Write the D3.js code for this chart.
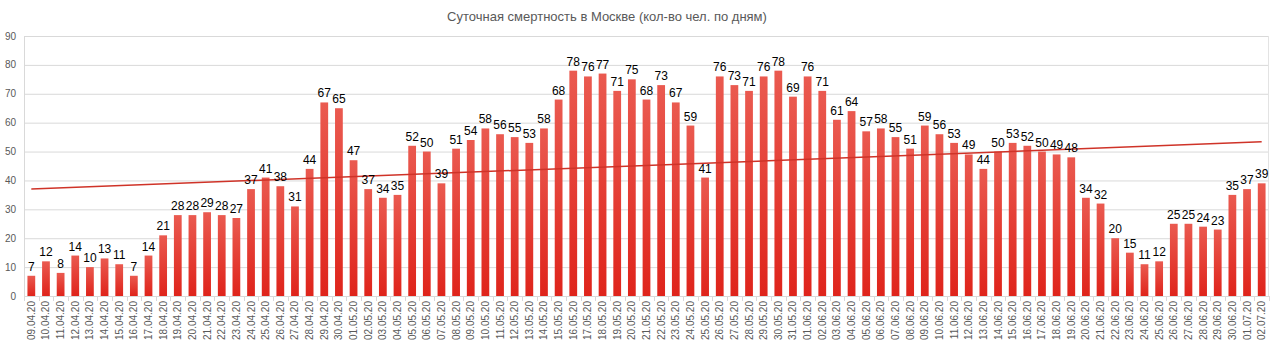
<!DOCTYPE html>
<html>
<head>
<meta charset="utf-8">
<script src="https://cdn.jsdelivr.net/npm/d3@7"></script>
<style>
  body { margin: 0; background: #fff; }
  svg { display: block; font-family: "Liberation Sans", Arial, sans-serif; }
</style>
</head>
<body>
<div class="chart"></div>
<script>
// daily deaths in Moscow, 09.04.20 - 02.07.20
var dates = [
  "09.04.20","10.04.20","11.04.20","12.04.20","13.04.20","14.04.20","15.04.20","16.04.20","17.04.20","18.04.20",
  "19.04.20","20.04.20","21.04.20","22.04.20","23.04.20","24.04.20","25.04.20","26.04.20","27.04.20","28.04.20",
  "29.04.20","30.04.20",
  "01.05.20","02.05.20","03.05.20","04.05.20","05.05.20","06.05.20","07.05.20","08.05.20","09.05.20","10.05.20",
  "11.05.20","12.05.20","13.05.20","14.05.20","15.05.20","16.05.20","17.05.20","18.05.20","19.05.20","20.05.20",
  "21.05.20","22.05.20","23.05.20","24.05.20","25.05.20","26.05.20","27.05.20","28.05.20","29.05.20","30.05.20",
  "31.05.20",
  "01.06.20","02.06.20","03.06.20","04.06.20","05.06.20","06.06.20","07.06.20","08.06.20","09.06.20","10.06.20",
  "11.06.20","12.06.20","13.06.20","14.06.20","15.06.20","16.06.20","17.06.20","18.06.20","19.06.20","20.06.20",
  "21.06.20","22.06.20","23.06.20","24.06.20","25.06.20","26.06.20","27.06.20","28.06.20","29.06.20","30.06.20",
  "01.07.20","02.07.20"
];
var deaths = [
  7,12,8,14,10,13,11,7,14,21,28,28,29,28,27,37,41,38,31,44,67,65,
  47,37,34,35,52,50,39,51,54,58,56,55,53,58,68,78,76,77,71,75,68,73,67,59,41,76,73,71,76,78,69,
  76,71,61,64,57,58,55,51,59,56,53,49,44,50,53,52,50,49,48,34,32,20,15,11,12,25,25,24,23,35,
  37,39
];
var yTicks = [0,10,20,30,40,50,60,70,80,90];
var title = "Суточная смертность в Москве (кол-во чел. по дням)";

var W = 1280, H = 353;
var margin = { top: 36, right: 11, bottom: 57, left: 24 };
var width = W - margin.left - margin.right;
var height = H - margin.top - margin.bottom;

var svg = d3.select(".chart")
  .append("svg")
    .attr("width", W)
    .attr("height", H);

var defs = svg.append("defs");
var grad = defs.append("linearGradient")
    .attr("id", "barGrad")
    .attr("x1", 0).attr("y1", 0).attr("x2", 0).attr("y2", 1);
grad.append("stop").attr("offset", "0%").attr("stop-color", "#ea5a50");
grad.append("stop").attr("offset", "100%").attr("stop-color", "#df241b");

svg.append("text")
    .attr("x", 607)
    .attr("y", 21)
    .attr("text-anchor", "middle")
    .attr("font-size", 13)
    .attr("fill", "#595959")
    .text(title);

var g = svg.append("g")
    .attr("transform", "translate(" + margin.left + "," + margin.top + ")");

var x = d3.scaleBand()
    .domain(dates)
    .range([0, width])
    .paddingInner(0.47)
    .paddingOuter(0.235);
var y = d3.scaleLinear()
    .domain([0, 90])
    .range([height, 0]);

// gridlines
g.selectAll(".grid")
  .data(yTicks)
  .enter().append("line")
    .attr("x1", 0).attr("x2", width)
    .attr("y1", function(d) { return y(d) + 0.5; })
    .attr("y2", function(d) { return y(d) + 0.5; })
    .attr("stroke", "#d9d9d9");

// plot area border (left + right)
g.append("line").attr("x1", 0.5).attr("x2", 0.5).attr("y1", 0).attr("y2", height)
    .attr("stroke", "#d9d9d9");
g.append("line").attr("x1", width - 0.5).attr("x2", width - 0.5).attr("y1", 0).attr("y2", height)
    .attr("stroke", "#e3e3e3");

// y axis labels
g.selectAll(".ylab")
  .data(yTicks)
  .enter().append("text")
    .attr("x", -8)
    .attr("y", function(d) { return y(d); })
    .attr("dy", "0.35em")
    .attr("text-anchor", "end")
    .attr("font-size", 10)
    .attr("fill", "#595959")
    .text(function(d) { return d; });

// category separators below axis
var sepX = d3.range(dates.length + 1).map(function(i) { return i * width / dates.length; });
g.selectAll(".sep")
  .data(sepX)
  .enter().append("line")
    .attr("x1", function(d) { return Math.round(d) + 0.5; })
    .attr("x2", function(d) { return Math.round(d) + 0.5; })
    .attr("y1", height).attr("y2", height + 5)
    .attr("stroke", "#d9d9d9");

// bars
g.selectAll(".bar")
  .data(deaths)
  .enter().append("rect")
    .attr("class", "bar")
    .attr("x", function(d, i) { return x(dates[i]); })
    .attr("width", x.bandwidth())
    .attr("y", function(d) { return y(d); })
    .attr("height", function(d) { return height - y(d); })
    .attr("fill", "url(#barGrad)");

// linear trendline (least squares, like the spreadsheet)
var n = deaths.length;
var mx = d3.mean(d3.range(n)), my = d3.mean(deaths);
var sxy = d3.sum(deaths, function(d, i) { return (i - mx) * (d - my); });
var sxx = d3.sum(d3.range(n), function(i) { return (i - mx) * (i - mx); });
var slope = sxy / sxx, icpt = my - slope * mx;
var cx = function(i) { return x(dates[i]) + x.bandwidth() / 2; };
g.append("line")
    .attr("x1", cx(0)).attr("y1", y(icpt))
    .attr("x2", cx(n - 1)).attr("y2", y(icpt + slope * (n - 1)))
    .attr("stroke", "#cf3328")
    .attr("stroke-width", 1.5);

// value labels
g.selectAll(".val")
  .data(deaths)
  .enter().append("text")
    .attr("x", function(d, i) { return cx(i); })
    .attr("y", function(d) { return y(d) - 5; })
    .attr("text-anchor", "middle")
    .attr("font-size", 12)
    .attr("fill", "#000")
    .text(function(d) { return d; });

// date labels
g.selectAll(".xlab")
  .data(dates)
  .enter().append("text")
    .attr("transform", function(d, i) {
      return "translate(" + cx(i) + "," + (height + 5) + ") rotate(-90)";
    })
    .attr("dy", "0.35em")
    .attr("text-anchor", "end")
    .attr("font-size", 10)
    .attr("fill", "#595959")
    .text(function(d) { return d; });
</script>
</body>
</html>
